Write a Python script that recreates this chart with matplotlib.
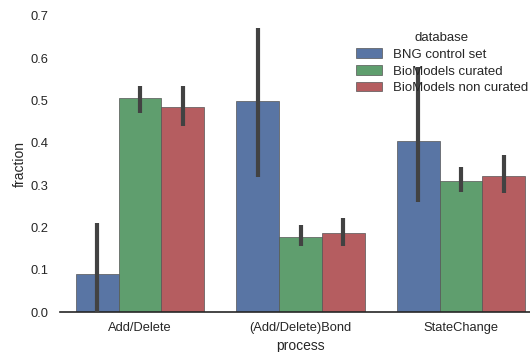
import matplotlib
matplotlib.use("Agg")
import matplotlib.pyplot as plt
import numpy as np
import colorsys

plt.rcParams['font.family'] = ['Liberation Sans', 'DejaVu Sans']

categories = ["Add/Delete", "(Add/Delete)Bond", "StateChange"]
series = ["BNG control set", "BioModels curated", "BioModels non curated"]
values = {
    "BNG control set": [0.09, 0.50, 0.405],
    "BioModels curated": [0.505, 0.178, 0.31],
    "BioModels non curated": [0.485, 0.187, 0.321],
}
ci_low = {
    "BNG control set": [0.0, 0.32, 0.26],
    "BioModels curated": [0.47, 0.156, 0.284],
    "BioModels non curated": [0.44, 0.156, 0.281],
}
ci_high = {
    "BNG control set": [0.21, 0.671, 0.579],
    "BioModels curated": [0.534, 0.206, 0.343],
    "BioModels non curated": [0.534, 0.222, 0.371],
}
base_colors = ["#4C72B0", "#55A868", "#C44E52"]


def desaturate(hexc, prop=0.75):
    r, g, b = matplotlib.colors.to_rgb(hexc)
    h, l, s = colorsys.rgb_to_hls(r, g, b)
    return colorsys.hls_to_rgb(h, l, s * prop)


colors = [desaturate(c) for c in base_colors]

fig = plt.figure(figsize=(5.30, 3.52), dpi=100)
ax = fig.add_axes([0.113, 0.1136, 0.908, 0.841])

x = np.arange(len(categories))
n = len(series)
w = 0.8 / n
for i, (s, c) in enumerate(zip(series, colors)):
    pos = x - 0.4 + w * (i + 0.5)
    ax.bar(pos, values[s], width=w, color=c, edgecolor="#555555", linewidth=0.5, label=s, zorder=2)
    for p, lo, hi in zip(pos, ci_low[s], ci_high[s]):
        ax.plot([p, p], [lo, hi], color="#424242", lw=3.0, solid_capstyle="butt", zorder=3)

ax.set_xlim(-0.5, 2.5)
ax.set_ylim(0, 0.7)
ax.set_xticks(x)
ax.set_xticklabels(categories)
ax.set_yticks(np.arange(0, 0.71, 0.1))
ax.set_yticklabels([f"{v:.1f}" for v in np.arange(0, 0.71, 0.1)])
ax.tick_params(axis="both", length=0, labelsize=9.3, colors="#262626", pad=7)
ax.tick_params(axis="y", pad=8)
for sp in ["left", "right", "top"]:
    ax.spines[sp].set_visible(False)
ax.spines["bottom"].set_color("#262626")
ax.spines["bottom"].set_linewidth(1.2)
ax.set_xlabel("process", fontsize=10, color="#262626", labelpad=4)
ax.set_ylabel("fraction", fontsize=10, color="#262626", labelpad=3)

leg = ax.legend(title="database", loc="upper left",
                bbox_to_anchor=(344 / 530, 1 - 20 / 352), bbox_transform=fig.transFigure,
                frameon=False, fontsize=9.5, title_fontsize=9.5, borderpad=0.4,
                handlelength=2.0, handleheight=0.7, handletextpad=0.8, labelspacing=0.35)
for t in leg.get_texts():
    t.set_color("#262626")
leg.get_title().set_color("#262626")

fig.savefig("out.png", dpi=100)
